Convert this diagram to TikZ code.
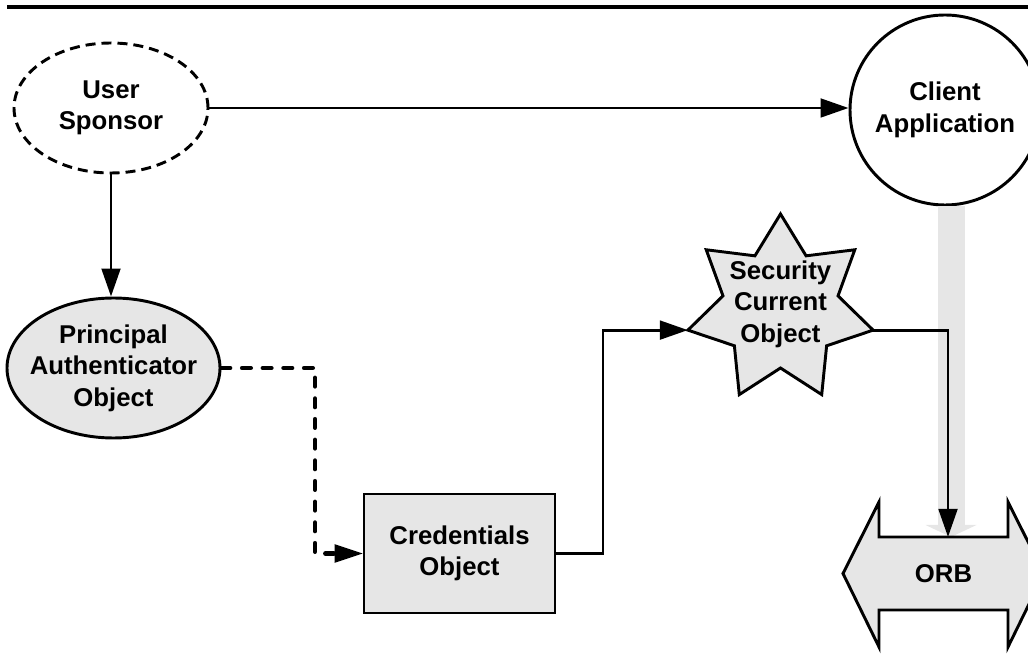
\documentclass[tikz,border=0pt]{standalone}
\usepackage{fontspec}
\setmainfont{Liberation Sans}
\usetikzlibrary{arrows.meta,shapes.geometric}
\definecolor{shapegray}{HTML}{E6E6E6}
\begin{document}
\begin{tikzpicture}[x=0.75pt,y=-0.75pt,
  lbl/.style={font=\bfseries\fontsize{19.3}{23.7}\selectfont, align=center, text=black, inner sep=0pt},
  shapeline/.style={line width=2.2pt, draw=black},
  conn/.style={line width=2.2pt, -{Triangle[length=21pt,width=14pt]}},
  dashconn/.style={line width=3.3pt, line cap=round, dash pattern=on 6.5pt off 9pt, -{Triangle[length=21pt,width=14pt,line width=0pt]}},
  grayflow/.style={line width=20.25pt, draw=shapegray, -{Triangle[length=9pt,width=38.25pt,line width=0pt,fill=shapegray]}}]
\useasboundingbox (0,0) rectangle (1028,655);
\clip (0,0) rectangle (1028,655);

% top rule
\draw[line width=2.4pt] (7,7) -- (1028,7);

% nodes
\node[shapeline, ellipse, dash pattern=on 7.5pt off 4.5pt, fill=white, minimum width=145.5pt, minimum height=97.5pt, inner sep=0pt,
      label={[lbl]center:User\\Sponsor}] (us) at (111,108) {};
\node[shapeline, circle, fill=white, minimum size=142.5pt, inner sep=0pt,
      label={[lbl]center:Client\\Application}] (ca) at (945,110) {};
\node[shapeline, ellipse, fill=shapegray, minimum width=159.75pt, minimum height=105pt, inner sep=0pt,
      label={[lbl]center:Principal\\Authenticator\\Object}] (pa) at (113.5,368) {};
\node[shapeline, rectangle, fill=shapegray, minimum width=143.25pt, minimum height=89.25pt, inner sep=0pt,
      label={[lbl]center:Credentials\\Object}] (cr) at (459.5,553.5) {};

% star
\draw[shapeline, fill=shapegray, shift={(780.5,309)}]
  (270:95) -- (295.71:59) -- (321.43:95) -- (347.14:59) -- (12.86:95) -- (38.57:59)
  -- (64.29:95) -- (90:59) -- (115.71:95) -- (141.43:59) -- (167.14:95) -- (192.86:59)
  -- (218.57:95) -- (244.29:59) -- cycle;
\node[lbl] (sc) at (780.5,304) {Security\\Current\\Object};
\coordinate (starW) at (687.9,330.1);
\coordinate (starE) at (873.1,330.1);

% gray flow arrow from client to ORB
\coordinate (g1) at (951,206);
\coordinate (g2) at (951,537);
\draw[grayflow] (g1) -- (g2);

% ORB double arrow
\draw[shapeline, fill=shapegray]
  (843,573.5) -- (879,502) -- (879,537) -- (1008,537) -- (1008,502) -- (1044,573.5)
  -- (1008,647) -- (1008,610) -- (879,610) -- (879,647) -- cycle;
\node[lbl] (orb) at (943.5,573.5) {ORB};
\coordinate (orbtop) at (948,537);

% connectors
\coordinate (d1) at (315,368);
\coordinate (c1) at (603,553.5);
\draw[conn] (us.east) -- (us.east -| ca.west);
\draw[conn] (us.south) -- (us.south |- pa.north);
\draw[dashconn] (pa.east) -- (d1) |- (cr.west);
\draw[conn] (cr.east) -- (c1) |- (starW);
\draw[conn] (starE) -| (orbtop);
\end{tikzpicture}
\end{document}
